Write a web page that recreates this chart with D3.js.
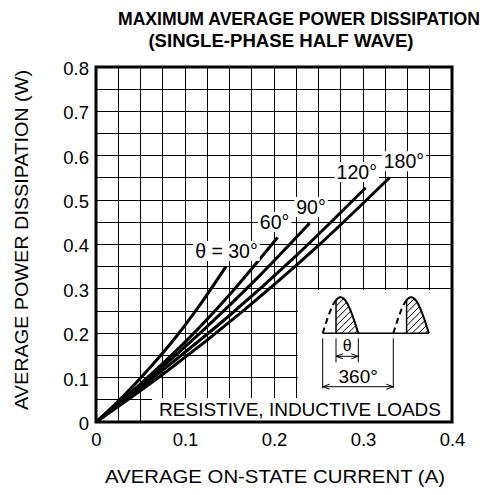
<!DOCTYPE html>
<html>
<head>
<meta charset="utf-8">
<script src="https://cdn.jsdelivr.net/npm/d3@7"></script>
<style>
  html, body { margin: 0; padding: 0; background: #fff; }
  svg { display: block; font-family: "Liberation Sans", Arial, Helvetica, sans-serif; }
</style>
</head>
<body>
<svg id="chart" width="487" height="495"></svg>
<script>
// ---------- data ----------
const titleLines = ["MAXIMUM AVERAGE POWER DISSIPATION", "(SINGLE-PHASE HALF WAVE)"];
const xAxisTitle = "AVERAGE ON-STATE CURRENT  (A)";
const yAxisTitle = "AVERAGE POWER DISSIPATION  (W)";
const xTicks = [0, 0.1, 0.2, 0.3, 0.4];
const yTicks = [0, 0.1, 0.2, 0.3, 0.4, 0.5, 0.6, 0.7, 0.8];

const seriesNames = ["θ = 30°", "60°", "90°", "120°", "180°"];
const current30  = [0, 0.03, 0.06, 0.09, 0.12, 0.146];
const power30    = [0, 0.057, 0.121, 0.192, 0.273, 0.350];
const current60  = [0, 0.05, 0.10, 0.15, 0.204];
const power60    = [0, 0.086, 0.180, 0.287, 0.416];
const current90  = [0, 0.06, 0.12, 0.18, 0.240];
const power90    = [0, 0.099, 0.206, 0.322, 0.448];
const current120 = [0, 0.075, 0.15, 0.225, 0.303];
const power120   = [0, 0.117, 0.240, 0.375, 0.528];
const current180 = [0, 0.08, 0.165, 0.25, 0.330];
const power180   = [0, 0.115, 0.250, 0.398, 0.551];

// label anchor (data units)
const labelCurrent = [0.1466, 0.2006, 0.2416, 0.293, 0.346];
const labelPower   = [0.3696, 0.435, 0.469, 0.5476, 0.5717];

const loadsLabel = "RESISTIVE, INDUCTIVE LOADS";
const thetaLabel = "θ";
const periodLabel = "360°";

// ---------- build ----------
const svg = d3.select("#chart");
const x = d3.scaleLinear().domain([0, 0.4]).range([96, 452]);
const y = d3.scaleLinear().domain([0, 0.8]).range([422, 67]);

const series = [
  {name: seriesNames[0], I: current30,  P: power30},
  {name: seriesNames[1], I: current60,  P: power60},
  {name: seriesNames[2], I: current90,  P: power90},
  {name: seriesNames[3], I: current120, P: power120},
  {name: seriesNames[4], I: current180, P: power180}
].map((s, i) => ({...s, pts: s.I.map((v, k) => [v, s.P[k]]), lx: labelCurrent[i], ly: labelPower[i]}));

// grid
const grid = svg.append("g").attr("stroke", "#000").attr("stroke-width", 1).attr("shape-rendering", "crispEdges");
grid.selectAll(".vx").data(d3.range(1, 16).map(k => k * 0.025)).join("line")
  .attr("x1", d => x(d)).attr("x2", d => x(d)).attr("y1", y(0)).attr("y2", y(0.8));
grid.selectAll(".hy").data(d3.range(1, 16).map(k => k * 0.05)).join("line")
  .attr("y1", d => y(d)).attr("y2", d => y(d)).attr("x1", x(0)).attr("x2", x(0.4));

// inset white area
svg.append("rect")
  .attr("x", x(0.225) + 1.5).attr("y", y(0.3) + 1)
  .attr("width", x(0.4) - x(0.225) - 1.5).attr("height", y(0) - y(0.3) - 1)
  .attr("fill", "#fff");

// loads label with white box
const loads = svg.append("g");
const loadsText = loads.append("text")
  .attr("x", x(0.4) - 11).attr("y", y(0) - 6)
  .attr("text-anchor", "end").attr("font-size", 19).attr("fill", "#000")
  .text(loadsLabel);
const lb = loadsText.node().getBBox();
loads.insert("rect", "text")
  .attr("x", lb.x - 7).attr("y", lb.y - 1)
  .attr("width", x(0.4) - (lb.x - 7)).attr("height", y(0) - (lb.y - 1))
  .attr("fill", "#fff");

// curves
const line = d3.line().x(d => x(d[0])).y(d => y(d[1])).curve(d3.curveMonotoneX);
svg.append("g").selectAll("path").data(series).join("path")
  .attr("d", d => line(d.pts))
  .attr("fill", "none").attr("stroke", "#000").attr("stroke-width", 3).attr("stroke-linecap", "butt");

// curve labels
const lg = svg.append("g");
series.forEach(s => {
  const g = lg.append("g");
  const t = g.append("text")
    .attr("x", x(s.lx)).attr("y", y(s.ly))
    .attr("text-anchor", "middle").attr("font-size", 19.5).attr("fill", "#000")
    .text(s.name);
  const b = t.node().getBBox();
  g.insert("rect", "text").attr("x", b.x - 2).attr("y", b.y + 1)
    .attr("width", b.width + 4).attr("height", b.height - 2).attr("fill", "#fff");
});

// inset waveform sketch
(function () {
  const ox = x(0.4) - 129.3, oy = y(0) - 88.7;
  const w = 35.6, p = 70.6, h = 36, f = 13.3;
  const ins = svg.append("g").attr("fill", "none").attr("stroke", "#000");
  const defs = svg.append("defs");
  ins.append("line").attr("x1", ox).attr("x2", ox + p + w).attr("y1", oy).attr("y2", oy).attr("stroke-width", 1.6);
  [0, 1].forEach(k => {
    const x0 = ox + k * p;
    const sine = (t0, t1) => d3.range(0, 41).map(i => {
      const t = t0 + (t1 - t0) * i / 40;
      return [x0 + t * w, oy - h * Math.sin(Math.PI * t)];
    });
    const tf = f / w;
    ins.append("path").attr("d", d3.line()(sine(0, tf))).attr("stroke-width", 2).attr("stroke-dasharray", "6,4");
    const solid = sine(tf, 1);
    const cid = "hc" + k;
    defs.append("clipPath").attr("id", cid).append("path")
      .attr("d", d3.line()([[x0 + f, oy], ...solid, [x0 + w, oy]]) + "Z");
    const hg = ins.append("g").attr("clip-path", `url(#${cid})`).attr("stroke-width", 1);
    for (let s = -40; s < 40; s += 6.5) {
      hg.append("line").attr("x1", x0 + f + s).attr("y1", oy).attr("x2", x0 + f + s + 40).attr("y2", oy - 40);
    }
    ins.append("path").attr("d", d3.line()(solid)).attr("stroke-width", 2);
    ins.append("line").attr("x1", x0 + f).attr("x2", x0 + f).attr("y1", oy).attr("y2", solid[0][1]).attr("stroke-width", 1.5);
  });
  const dim = ins.append("g").attr("stroke-width", 1);
  const vline = (xx, y1, y2) => dim.append("line").attr("x1", xx).attr("x2", xx).attr("y1", y1).attr("y2", y2);
  vline(ox, oy + 5, oy + 55);
  vline(ox + p, oy + 5, oy + 55);
  vline(ox + f, oy + 5, oy + 29);
  vline(ox + w, oy + 5, oy + 29);
  const arrow = (x1, x2, yy) => {
    dim.append("line").attr("x1", x1).attr("x2", x2).attr("y1", yy).attr("y2", yy);
    dim.append("path").attr("d", `M${x1 + 7},${yy - 2.5}L${x1},${yy}L${x1 + 7},${yy + 2.5}`);
    dim.append("path").attr("d", `M${x2 - 7},${yy - 2.5}L${x2},${yy}L${x2 - 7},${yy + 2.5}`);
  };
  arrow(ox + f, ox + w, oy + 23);
  arrow(ox, ox + p, oy + 53.4);
  svg.append("text").attr("x", ox + (f + w) / 2).attr("y", oy + 18).attr("text-anchor", "middle")
    .attr("font-size", 16).text(thetaLabel);
  svg.append("text").attr("x", ox + 35.5).attr("y", oy + 50).attr("text-anchor", "middle")
    .attr("font-size", 19).text(periodLabel);
})();

// axes
const fmt = d => d === 0 ? "0" : d3.format(".1f")(d);
const xa = svg.append("g").attr("transform", `translate(0,${y(0)})`)
  .call(d3.axisBottom(x).tickValues(xTicks).tickSize(0).tickPadding(11).tickFormat(fmt));
const ya = svg.append("g").attr("transform", `translate(${x(0)},0)`)
  .call(d3.axisLeft(y).tickValues(yTicks).tickSize(0).tickPadding(7).tickFormat(fmt));
[xa, ya].forEach(a => {
  a.select(".domain").remove();
  a.selectAll("text").attr("font-size", 18.5).attr("font-family", "Liberation Sans, Arial, sans-serif").attr("fill", "#000");
});
ya.selectAll("text").attr("dy", "0.4em");

// frame
svg.append("rect").attr("x", x(0)).attr("y", y(0.8))
  .attr("width", x(0.4) - x(0)).attr("height", y(0) - y(0.8))
  .attr("fill", "none").attr("stroke", "#000").attr("stroke-width", 3);

// titles
svg.append("text").attr("x", 299).attr("y", 25).attr("text-anchor", "middle")
  .attr("font-size", 17.6).attr("font-weight", "bold").text(titleLines[0]);
svg.append("text").attr("x", 281).attr("y", 47).attr("text-anchor", "middle")
  .attr("font-size", 18.6).attr("font-weight", "bold").text(titleLines[1]);
svg.append("text").attr("x", 275).attr("y", 483).attr("text-anchor", "middle")
  .attr("font-size", 17.5).attr("textLength", 340).attr("lengthAdjust", "spacingAndGlyphs").text(xAxisTitle);
svg.append("text").attr("transform", "translate(28,240) rotate(-90)").attr("text-anchor", "middle")
  .attr("font-size", 17.5).attr("textLength", 340).attr("lengthAdjust", "spacingAndGlyphs").text(yAxisTitle);
</script>
</body>
</html>
